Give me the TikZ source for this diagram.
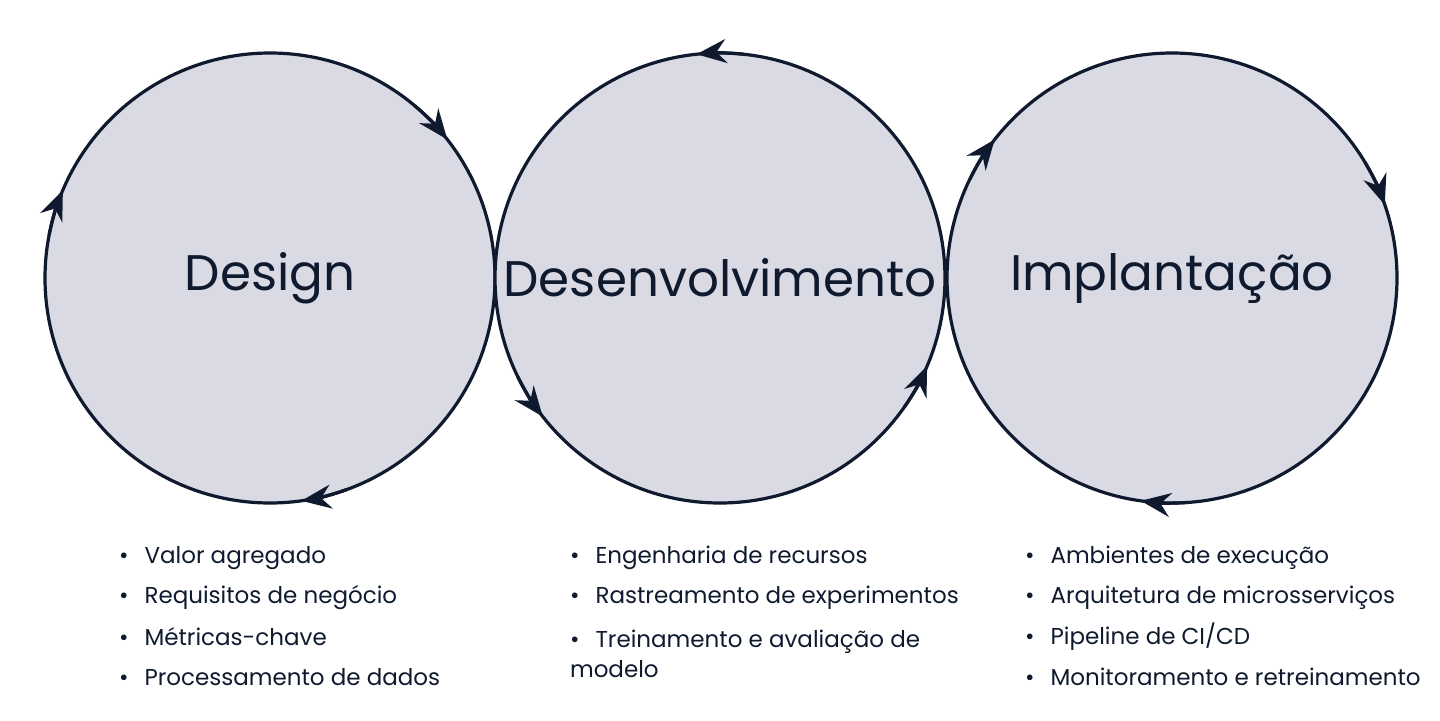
\documentclass[tikz,border=0pt]{standalone}
\usepackage{fontspec}
\setmainfont{Poppins}
\usetikzlibrary{arrows.meta}
\definecolor{ink}{HTML}{0F1A2E}
\definecolor{disc}{HTML}{D9DAE3}
\tikzset{
  phase/.style={circle, draw=ink, line width=1.6pt, fill=disc, minimum size=225pt, inner sep=0pt, font=\fontsize{25}{30}\selectfont, text=ink},
  tip/.style={draw=ink, line width=1.6pt, -{Stealth[length=15pt,width=12pt,inset=5pt]}},
  item/.style={anchor=west, font=\fontsize{11.5}{15}\selectfont, text=ink, align=left}
}
\begin{document}
\begin{tikzpicture}[x=0.5pt,y=0.5pt]
  \useasboundingbox (0,0) rectangle (1440,720);

  % Draw the circles
  \node (dsg) [phase] at (270,442) {Design};
  \node (dev) [phase] at (720,442) {Desenvolvimento};
  \node (imp) [phase] at (1172,442) {Implantação};

  % Draw the arrow tips
  \foreach \a in {38,157,-82}
    \draw [tip] ([shift={(\a+12:112.5pt)}]dsg.center) arc[start angle=\a+12, end angle=\a, radius=112.5pt];
  \foreach \a in {96,218,337}
    \draw [tip] ([shift={(\a-12:112.5pt)}]dev.center) arc[start angle=\a-12, end angle=\a, radius=112.5pt];
  \foreach \a in {142,19,262}
    \draw [tip] ([shift={(\a+12:112.5pt)}]imp.center) arc[start angle=\a+12, end angle=\a, radius=112.5pt];

  % Draw the lists
  \node (dsg1) [item] at (112,162) {\textbullet\hspace{8pt}Valor agregado};
  \node (dsg2) [item] at (112,122) {\textbullet\hspace{8pt}Requisitos de negócio};
  \node (dsg3) [item] at (112,83) {\textbullet\hspace{8pt}Métricas-chave};
  \node (dsg4) [item] at (112,43) {\textbullet\hspace{8pt}Processamento de dados};

  \node (dev1) [item] at (563,162) {\textbullet\hspace{8pt}Engenharia de recursos};
  \node (dev2) [item] at (563,122) {\textbullet\hspace{8pt}Rastreamento de experimentos};
  \node (dev3) [item, anchor=north west] at (563,97) {\textbullet\hspace{8pt}Treinamento e avaliação de\\modelo};

  \node (imp1) [item] at (1018,162) {\textbullet\hspace{8pt}Ambientes de execução};
  \node (imp2) [item] at (1018,122) {\textbullet\hspace{8pt}Arquitetura de microsserviços};
  \node (imp3) [item] at (1018,83) {\textbullet\hspace{8pt}Pipeline de CI/CD};
  \node (imp4) [item] at (1018,43) {\textbullet\hspace{8pt}Monitoramento e retreinamento};
\end{tikzpicture}
\end{document}
